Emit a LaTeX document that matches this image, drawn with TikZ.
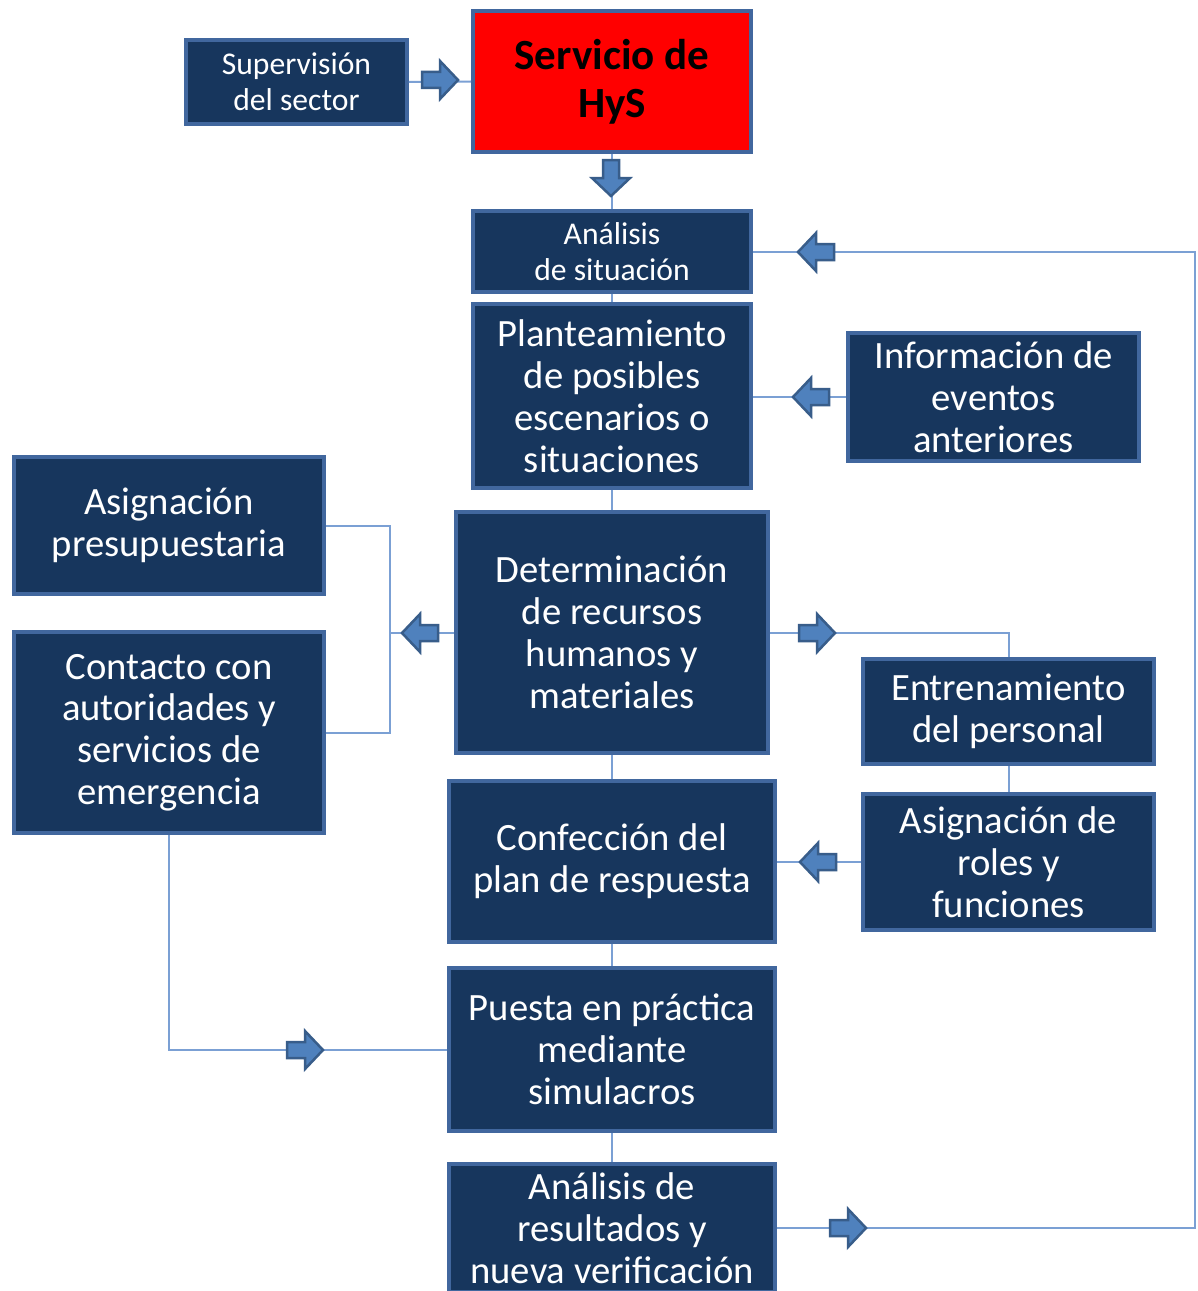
\documentclass[tikz,border=0pt]{standalone}
\usepackage{fontspec}
\setmainfont{Carlito}
\definecolor{boxfill}{HTML}{17365D}
\definecolor{boxline}{HTML}{41679E}
\definecolor{connc}{HTML}{7BA0D4}
\definecolor{arrfill}{HTML}{4F81BD}
\definecolor{arrline}{HTML}{385D8A}
\tikzset{
  box/.style={draw=boxline, line width=0.08cm, fill=boxfill, text=white, align=center,
    inner sep=0pt, font=\fontsize{22}{23.8}\selectfont},
  smallbox/.style={box, font=\fontsize{18}{20.4}\selectfont},
  conn/.style={draw=connc, line width=0.04cm},
  barrow/.pic={\filldraw[fill=arrfill, draw=arrline, line width=0.05cm, line join=miter]
    (0,0) -- (-18,-19) -- (-18,-8) -- (-36,-8) -- (-36,8) -- (-18,8) -- (-18,19) -- cycle;}
}
\begin{document}
\begin{tikzpicture}[x=0.02cm, y=-0.02cm]
\clip (0,0) rectangle (1197,1291);
\fill[white] (0,0) rectangle (1197,1291);
% nodes
\node[smallbox, minimum width=4.42cm, minimum height=1.68cm] (sup) at (296.5,82) {Supervisión\\del sector};
\node[box, fill=red, text=black, minimum width=5.56cm, minimum height=2.82cm,
  font=\fontsize{24.5}{27.2}\selectfont\bfseries] (serv) at (612,81.5) {Servicio de\\HyS};
\node[smallbox, minimum width=5.56cm, minimum height=1.62cm] (an1) at (612,251.5) {Análisis\\de situación};
\node[box, minimum width=5.56cm, minimum height=3.68cm] (plan) at (612,396) {Planteamiento\\de posibles\\escenarios o\\situaciones};
\node[box, minimum width=5.82cm, minimum height=2.56cm] (info) at (993.5,397) {Información de\\eventos\\anteriores};
\node[box, minimum width=6.2cm, minimum height=2.74cm] (asig) at (169,525.5) {Asignación\\presupuestaria};
\node[box, minimum width=6.24cm, minimum height=4.82cm] (det) at (612,632.5) {Determinación\\de recursos\\humanos y\\materiales};
\node[box, minimum width=6.2cm, minimum height=4.02cm] (cont) at (169,732.5) {Contacto con\\autoridades y\\servicios de\\emergencia};
\node[box, minimum width=5.82cm, minimum height=2.1cm] (entr) at (1008.5,711.5) {Entrenamiento\\del personal};
\node[box, minimum width=5.82cm, minimum height=2.72cm] (roles) at (1008.5,862) {Asignación de\\roles y\\funciones};
\node[box, minimum width=6.52cm, minimum height=3.22cm] (conf) at (612,861.5) {Confección del\\plan de respuesta};
\node[box, minimum width=6.52cm, minimum height=3.26cm] (pues) at (612,1049.5) {Puesta en práctica\\mediante\\simulacros};
\node[box, minimum width=6.52cm, minimum height=2.56cm] (anres) at (612,1228) {Análisis de\\resultados y\\nueva verificación};
% helper coordinates
\coordinate (loopx) at (1195,0);
\coordinate (brk) at (390,632.5);
% connectors
\draw[conn] (sup.east) -- (serv.west);
\draw[conn] (serv.south) -- (an1.north);
\draw[conn] (an1.south) -- (plan.north);
\draw[conn] (plan.south) -- (det.north);
\draw[conn] (det.south) -- (conf.north);
\draw[conn] (conf.south) -- (pues.north);
\draw[conn] (pues.south) -- (anres.north);
\draw[conn] (an1.east) -- (an1.east -| loopx) |- (anres.east);
\draw[conn] (info.west) -- (plan.east |- info.west);
\draw[conn] (det.west) -- (brk);
\draw[conn] (asig.east) -| (brk) |- (cont.east);
\draw[conn] (det.east) -| (entr.north);
\draw[conn] (entr.south) -- (roles.north);
\draw[conn] (roles.west) -- (conf.east |- roles.west);
\draw[conn] (cont.south) |- (pues.west);
% block arrows
\pic at (458,80) {barrow};
\pic[rotate=-90] at (611,196) {barrow};
\pic[rotate=180] at (798,252) {barrow};
\pic[rotate=180] at (793,397) {barrow};
\pic[rotate=180] at (402,633) {barrow};
\pic at (835,633) {barrow};
\pic[rotate=180] at (800,862) {barrow};
\pic at (323,1050) {barrow};
\pic at (866,1228) {barrow};
\end{tikzpicture}
\end{document}
